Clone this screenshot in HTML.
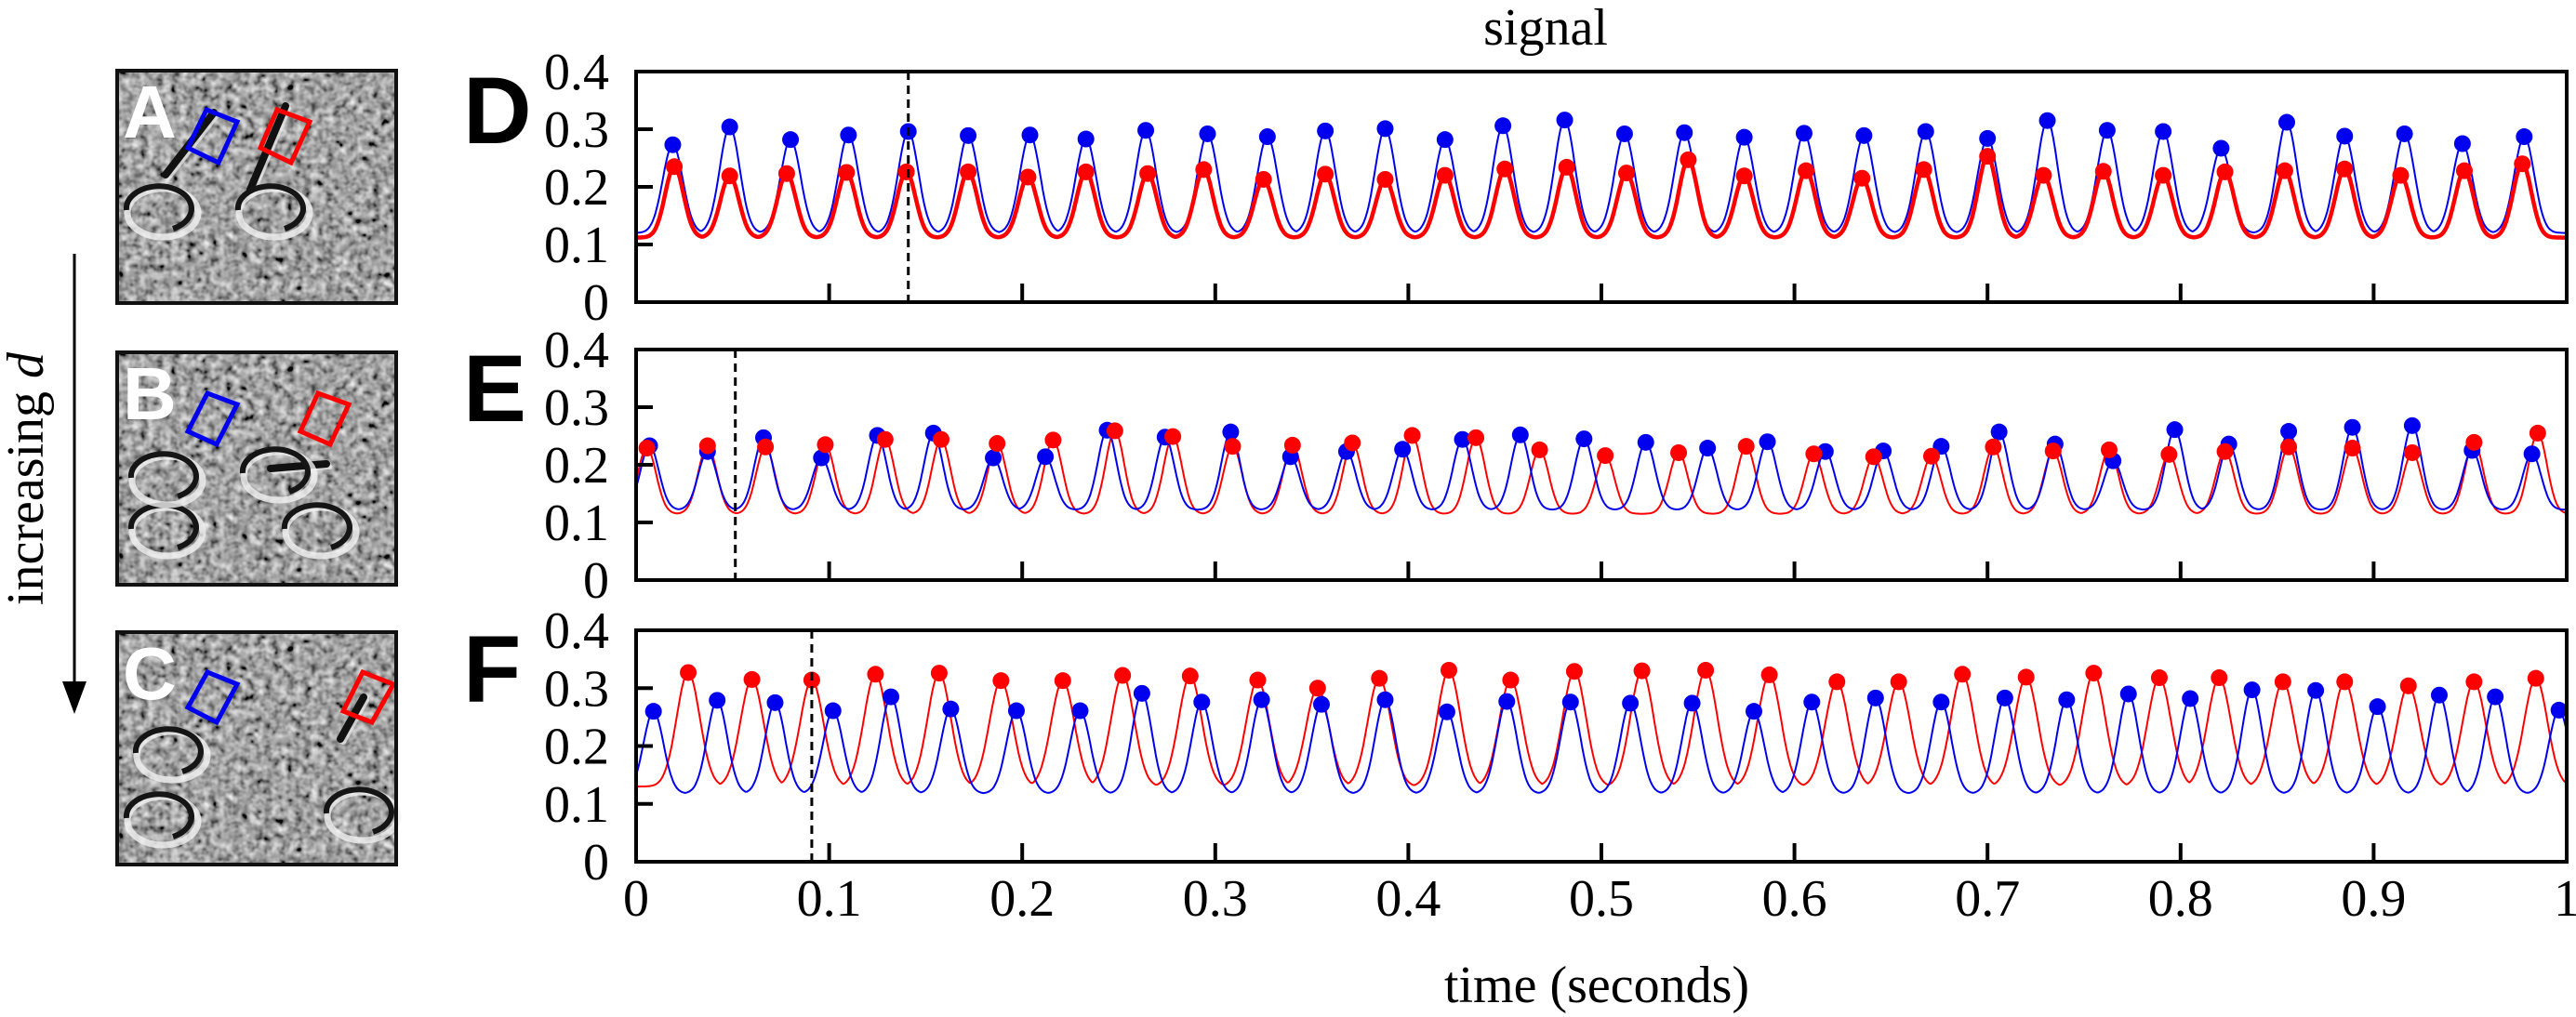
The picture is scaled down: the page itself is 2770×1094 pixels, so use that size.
<!DOCTYPE html>
<html><head><meta charset="utf-8"><style>
html,body{margin:0;padding:0;background:#fff;}
svg{display:block;}
text{font-family:"Liberation Serif",serif;}
</style></head><body>
<svg id="fig" width="2770" height="1094" viewBox="0 0 2770 1094" xmlns="http://www.w3.org/2000/svg">
<defs>
<filter id="noise" x="0" y="0" width="100%" height="100%">
<feTurbulence type="fractalNoise" baseFrequency="0.12" numOctaves="2" seed="3"/>
<feColorMatrix type="matrix" values="0.33 0.33 0.33 0 0  0.33 0.33 0.33 0 0  0.33 0.33 0.33 0 0  0 0 0 0 1"/>
<feComponentTransfer><feFuncR type="linear" slope="2.0" intercept="-0.62"/><feFuncG type="linear" slope="2.0" intercept="-0.62"/><feFuncB type="linear" slope="2.0" intercept="-0.62"/></feComponentTransfer>
</filter>
</defs>
<g id="images"></g>
<g id="plots"></g>
</svg>
<script>
// ---- data ----
const tickValsY = [0.1, 0.2, 0.3];
const yLabels = ["0", "0.1", "0.2", "0.3", "0.4"];
const yLabelVals = [0, 0.1, 0.2, 0.3, 0.4];
const xTicks = [0.1, 0.2, 0.3, 0.4, 0.5, 0.6, 0.7, 0.8, 0.9];
const xLabels = ["0", "0.1", "0.2", "0.3", "0.4", "0.5", "0.6", "0.7", "0.8", "0.9", "1"];
const xLabelVals = [0, 0.1, 0.2, 0.3, 0.4, 0.5, 0.6, 0.7, 0.8, 0.9, 1];

const dBlueT = [0.019,0.0485,0.080,0.110,0.141,0.172,0.204,0.233,0.264,0.296,0.327,0.357,0.388,0.419,0.449,0.481,0.512,0.543,0.574,0.605,0.636,0.668,0.700,0.731,0.762,0.791,0.821,0.855,0.885,0.916,0.946,0.978];
const dBlueV = [0.273,0.304,0.282,0.29,0.296,0.289,0.29,0.283,0.298,0.292,0.287,0.297,0.301,0.282,0.306,0.316,0.292,0.294,0.286,0.293,0.289,0.296,0.284,0.315,0.298,0.296,0.267,0.312,0.288,0.292,0.275,0.287];
const dRedT = [0.0198,0.0485,0.078,0.109,0.140,0.172,0.203,0.233,0.265,0.294,0.325,0.357,0.388,0.419,0.450,0.482,0.513,0.545,0.574,0.606,0.635,0.667,0.700,0.729,0.760,0.791,0.823,0.854,0.885,0.914,0.947,0.977];
const dRedV = [0.235,0.219,0.223,0.225,0.226,0.226,0.217,0.226,0.223,0.23,0.213,0.222,0.213,0.22,0.231,0.234,0.224,0.247,0.219,0.228,0.215,0.23,0.253,0.22,0.227,0.22,0.226,0.228,0.231,0.22,0.228,0.24];

const eBlueT = [0.007,0.037,0.066,0.096,0.125,0.154,0.185,0.212,0.244,0.274,0.308,0.339,0.368,0.397,0.428,0.458,0.491,0.523,0.555,0.586,0.616,0.646,0.676,0.706,0.735,0.765,0.797,0.825,0.856,0.889,0.920,0.951,0.982];
const eBlueV = [0.233,0.223,0.247,0.212,0.251,0.255,0.212,0.214,0.26,0.248,0.257,0.214,0.223,0.227,0.244,0.252,0.245,0.239,0.229,0.24,0.223,0.224,0.232,0.257,0.236,0.207,0.261,0.236,0.258,0.265,0.268,0.225,0.219];
const eRedT = [0.0056,0.037,0.067,0.098,0.129,0.158,0.187,0.216,0.248,0.278,0.309,0.340,0.371,0.402,0.435,0.468,0.502,0.540,0.575,0.610,0.641,0.671,0.703,0.734,0.763,0.794,0.823,0.856,0.889,0.920,0.952,0.985];
const eRedV = [0.229,0.233,0.231,0.235,0.244,0.244,0.237,0.243,0.259,0.249,0.232,0.234,0.238,0.251,0.247,0.226,0.216,0.221,0.232,0.219,0.214,0.215,0.231,0.224,0.226,0.218,0.223,0.231,0.229,0.221,0.239,0.255];

const fBlueT = [0.009,0.042,0.072,0.102,0.132,0.163,0.197,0.230,0.262,0.293,0.324,0.355,0.388,0.420,0.451,0.484,0.515,0.547,0.579,0.609,0.642,0.676,0.709,0.741,0.773,0.805,0.837,0.870,0.902,0.934,0.963,0.996];
const fBlueV = [0.26,0.279,0.275,0.261,0.285,0.264,0.261,0.261,0.291,0.276,0.28,0.272,0.28,0.259,0.277,0.276,0.274,0.274,0.26,0.276,0.283,0.276,0.283,0.28,0.29,0.282,0.297,0.296,0.268,0.288,0.285,0.262];
const fRedT = [0.027,0.060,0.091,0.124,0.157,0.189,0.221,0.252,0.287,0.322,0.353,0.385,0.421,0.453,0.486,0.521,0.554,0.587,0.622,0.654,0.687,0.720,0.755,0.789,0.820,0.853,0.885,0.918,0.952,0.984];
const fRedV = [0.327,0.315,0.314,0.324,0.326,0.313,0.313,0.322,0.321,0.314,0.3,0.317,0.331,0.314,0.329,0.33,0.331,0.323,0.311,0.311,0.324,0.319,0.326,0.318,0.318,0.311,0.311,0.304,0.311,0.317];

const markerTimes = [0.141, 0.0514, 0.091];

// ---- layout ----
const NS = "http://www.w3.org/2000/svg";
const X0 = 684, X1 = 2760;
const panels = [
  {letter:"D", top:77, bottom:325, bt:dBlueT, bv:dBlueV, rt:dRedT, rv:dRedV, bBase:0.12, rBase:0.112, bW:0.0052, rW:0.0048, rWidth:4.5, xlab:false},
  {letter:"E", top:376, bottom:624, bt:eBlueT, bv:eBlueV, rt:eRedT, rv:eRedV, bBase:0.122, rBase:0.115, bW:0.0048, rW:0.0048, rWidth:2, xlab:false},
  {letter:"F", top:678, bottom:927, bt:fBlueT, bv:fBlueV, rt:fRedT, rv:fRedV, bBase:0.118, rBase:0.13, bW:0.0052, rW:0.006, rWidth:2, xlab:true}
];
const xs = t => X0 + t * (X1 - X0);
function mk(tag, attrs, parent){
  const e = document.createElementNS(NS, tag);
  for (const k in attrs) e.setAttribute(k, attrs[k]);
  parent.appendChild(e);
  return e;
}
const plots = document.getElementById('plots');

function curve(ts, vs, base, w){
  const pts = [];
  for (let i = 0; i <= 1500; i++){
    const t = i / 1500;
    let y = base;
    for (let k = 0; k < ts.length; k++){
      const d = (t - ts[k]) / w;
      if (Math.abs(d) < 8) {
        const v = base + (vs[k] - base) * Math.exp(-0.5 * d * d);
        if (v > y) y = v;
      }
    }
    pts.push([t, y]);
  }
  return pts;
}

panels.forEach((p, pi) => {
  const ys = v => p.bottom - v / 0.4 * (p.bottom - p.top);
  const g = mk('g', {}, plots);
  
  
  const clipId = 'clip' + pi;
  const cp = mk('clipPath', {id: clipId}, g);
  mk('rect', {x: X0, y: p.top, width: X1 - X0, height: p.bottom - p.top}, cp);

  const drawLine = (ts, vs, base, w, color, width, name) => {
    const pts = curve(ts, vs, base, w);
    const d = pts.map((q, i) => (i ? 'L' : 'M') + xs(q[0]).toFixed(1) + ' ' + ys(q[1]).toFixed(1)).join('');
    const path = mk('path', {d: d, fill: 'none', stroke: color, 'stroke-width': width, 'clip-path': 'url(#' + clipId + ')', 'stroke-linejoin': 'round'}, g);
    
    
  };
  const drawDots = (ts, vs, color, name) => {
    ts.forEach((t, i) => {
      const c = mk('circle', {cx: xs(t), cy: ys(vs[i]), r: 9, fill: color}, g);
      
      
    });
  };
  if (p.letter === 'D') {
    drawLine(p.bt, p.bv, p.bBase, p.bW, '#0000ee', 2, 'blue-signal-line');
    drawLine(p.rt, p.rv, p.rBase, p.rW, '#ff0000', p.rWidth, 'red-signal-line');
  } else {
    drawLine(p.rt, p.rv, p.rBase, p.rW, '#ff0000', p.rWidth, 'red-signal-line');
    drawLine(p.bt, p.bv, p.bBase, p.bW, '#0000ee', 2, 'blue-signal-line');
  }
  drawDots(p.bt, p.bv, '#0000ee', 'blue-peak-dot');
  drawDots(p.rt, p.rv, '#ff0000', 'red-peak-dot');

  const m = mk('line', {x1: xs(markerTimes[pi]), x2: xs(markerTimes[pi]), y1: p.top, y2: p.bottom, stroke: '#000', 'stroke-width': 3, 'stroke-dasharray': '9 6'}, g);
  
  

  const fr = mk('rect', {x: X0, y: p.top, width: X1 - X0, height: p.bottom - p.top, fill: 'none', stroke: '#000', 'stroke-width': 4}, g);
  
  

  tickValsY.forEach(v => {
    const t = mk('line', {x1: X0, x2: X0 + 18, y1: ys(v), y2: ys(v), stroke: '#000', 'stroke-width': 4}, g);
    
    
  });
  yLabelVals.forEach((v, i) => {
    const tx = mk('text', {x: 655, y: ys(v) + 19, 'text-anchor': 'end', 'font-size': 56, fill: '#000'}, g);
    tx.textContent = yLabels[i];
    
    
  });
  xTicks.forEach(v => {
    const t = mk('line', {x1: xs(v), x2: xs(v), y1: p.bottom, y2: p.bottom - 20, stroke: '#000', 'stroke-width': 4}, g);
    
    
  });
  if (p.xlab) {
    xLabelVals.forEach((v, i) => {
      const tx = mk('text', {x: xs(v), y: 985, 'text-anchor': 'middle', 'font-size': 56, fill: '#000'}, g);
      tx.textContent = xLabels[i];
      
      
    });
  }
  const L = mk('text', {x: 498, y: p.top + 77, 'font-size': 102, 'font-weight': 'bold', fill: '#000', style: 'font-family:"Liberation Sans",sans-serif'}, g);
  L.textContent = p.letter;
  
  
});

const sig = mk('text', {x: 1662, y: 48, 'text-anchor': 'middle', 'font-size': 56, fill: '#000'}, plots);
sig.textContent = 'signal';


const xt = mk('text', {x: 1717, y: 1078, 'text-anchor': 'middle', 'font-size': 56, fill: '#000'}, plots);
xt.textContent = 'time (seconds)';



// ---- images ----
const imgs = document.getElementById('images');
const images = [
  {letter:'A', y:76, blue:[[76,83],[96,42],[129,55],[109,99]], red:[[154,83],[172,42],[207,55],[187,99]],
   strokes:[[104,45,52,112],[181,38,143,128]], curls:[[45,150],[165,150]]},
  {letter:'B', y:379, blue:[[76,85],[97,44],[129,56],[107,99]], red:[[197,85],[216,44],[249,56],[229,99]],
   strokes:[[165,125,225,120]], curls:[[50,190],[215,190],[50,135],[170,130]]},
  {letter:'C', y:680, blue:[[76,81],[97,43],[129,56],[107,97]], red:[[243,85],[264,43],[297,56],[274,97]],
   strokes:[[265,70,240,115]], curls:[[45,200],[260,195],[55,130]]}
];
images.forEach((im, i) => {
  const g = mk('g', {transform: 'translate(126,' + im.y + ')'}, imgs);
  
  
  mk('rect', {x: 0, y: 0, width: 300, height: 250, fill: '#888'}, g);
  mk('rect', {x: 0, y: 0, width: 300, height: 250, filter: 'url(#noise)', opacity: 0.95}, g);
  im.strokes.forEach(s => {
    mk('line', {x1: s[0] + 3, y1: s[1] + 3, x2: s[2] + 3, y2: s[3] + 3, stroke: '#eee', 'stroke-width': 6, 'stroke-linecap': 'round', opacity: 0.7}, g);
    mk('line', {x1: s[0], y1: s[1], x2: s[2], y2: s[3], stroke: '#111', 'stroke-width': 8, 'stroke-linecap': 'round'}, g);
  });
  im.curls.forEach(c => {
    mk('ellipse', {cx: c[0] + 4, cy: c[1] + 3, rx: 38, ry: 26, fill: 'none', stroke: '#f2f2f2', 'stroke-width': 7, opacity: 0.8}, g);
    mk('path', {d: 'M' + (c[0] - 35) + ' ' + c[1] + ' a35 24 0 1 1 50 20', fill: 'none', stroke: '#151515', 'stroke-width': 6}, g);
  });
  const L = mk('text', {x: 6, y: 72, 'font-size': 80, 'font-weight': 'bold', fill: '#fff', style: 'font-family:"Liberation Sans",sans-serif'}, g);
  L.textContent = im.letter;
  
  
  const b = mk('polygon', {points: im.blue.map(q => q.join(',')).join(' '), fill: 'none', stroke: '#0000ee', 'stroke-width': 5}, g);
  
  
  const r = mk('polygon', {points: im.red.map(q => q.join(',')).join(' '), fill: 'none', stroke: '#ff0000', 'stroke-width': 5}, g);
  
  
  mk('rect', {x: 0, y: 0, width: 300, height: 250, fill: 'none', stroke: '#111', 'stroke-width': 4}, g);
});
const ar = mk('line', {x1: 80, y1: 273, x2: 80, y2: 740, stroke: '#000', 'stroke-width': 3}, imgs);


const ah = mk('polygon', {points: '67,733 93,733 80,768', fill: '#000'}, imgs);


const lab = mk('text', {x: 0, y: 0, 'text-anchor': 'middle', 'font-size': 56, fill: '#000', transform: 'translate(46,515) rotate(-90)'}, imgs);
lab.textContent = 'increasing ';
const it = mk('tspan', {'font-style': 'italic'}, lab);
it.textContent = 'd';


</script>
</body></html>
